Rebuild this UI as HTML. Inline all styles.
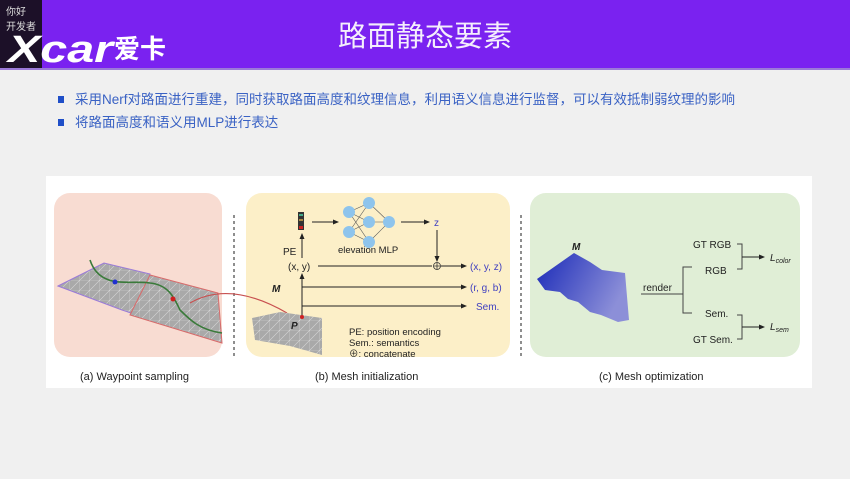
<!DOCTYPE html>
<html><head><meta charset="utf-8"><style>
body{margin:0;width:850px;height:479px;overflow:hidden;background:#f0f0f0;font-family:"Liberation Sans","Noto Sans CJK SC",sans-serif;}
</style></head><body>
<svg width="850" height="479" viewBox="0 0 850 479" xmlns="http://www.w3.org/2000/svg" style="position:absolute;left:0;top:0">
<defs>
<marker id="a" markerWidth="6" markerHeight="6" refX="5" refY="3" orient="auto"><path d="M0,0.5 L6,3 L0,5.5z" fill="#222"/></marker>
<linearGradient id="g" x1="0" y1="0" x2="1" y2="0.4"><stop offset="0" stop-color="#1a2ab8"/><stop offset="1" stop-color="#8c8fd8"/></linearGradient>
<pattern id="mesh" width="10" height="10" patternUnits="userSpaceOnUse"><rect width="10" height="10" fill="#a9a9a9"/><path d="M0,0H10V10M0,10L10,0" stroke="#d8d8d8" stroke-width="0.6" fill="none"/></pattern>
</defs>
<rect x="0" y="0" width="850" height="68" fill="#7a22f0"/>
<rect x="0" y="68" width="850" height="2" fill="#9b7ad8"/>
<rect x="0" y="0" width="42" height="68" fill="#1c1028"/>
<text x="6" y="15" font-size="10" fill="#ddd">你好</text>
<text x="6" y="30" font-size="10" fill="#ddd">开发者</text>
<text x="8" y="62" font-size="38" font-weight="bold" font-style="italic" fill="#fff" textLength="105" lengthAdjust="spacingAndGlyphs">Xcar</text>
<text x="114" y="58" font-size="26" font-weight="bold" fill="#fff">爱卡</text>
<text x="425" y="46" font-size="29" fill="#f4eefc" text-anchor="middle">路面静态要素</text>
<rect x="58" y="96" width="6" height="7" fill="#1f4fc8"/>
<text x="75" y="104" font-size="13.5" fill="#3a62c4">采用Nerf对路面进行重建，同时获取路面高度和纹理信息，利用语义信息进行监督，可以有效抵制弱纹理的影响</text>
<rect x="58" y="119" width="6" height="7" fill="#1f4fc8"/>
<text x="75" y="127" font-size="13.5" fill="#3a62c4">将路面高度和语义用MLP进行表达</text>
<rect x="46" y="176" width="766" height="212" fill="#fff"/>
<rect x="54" y="193" width="168" height="164" rx="16" fill="#f8dcd2"/>
<rect x="246" y="193" width="264" height="164" rx="16" fill="#fcefc8"/>
<rect x="530" y="193" width="270" height="164" rx="16" fill="#e0eed6"/>
<line x1="234" y1="215" x2="234" y2="357" stroke="#444" stroke-width="1.2" stroke-dasharray="3,3"/>
<line x1="521" y1="215" x2="521" y2="357" stroke="#444" stroke-width="1.2" stroke-dasharray="3,3"/>
<!-- panel a -->
<polygon points="58,286 104,263 150,274 140,316 122,310" fill="url(#mesh)" stroke="#9a7ad8"/>
<polygon points="150,275 218,293 222,343 130,315" fill="url(#mesh)" stroke="#d86a6a"/>
<path d="M90,260 C100,290 130,280 150,283 C170,285 175,300 180,310 C190,320 200,330 222,333" stroke="#3a7a3a" stroke-width="1.6" fill="none"/>
<circle cx="115" cy="282" r="2.5" fill="#2030d0"/>
<circle cx="173" cy="299" r="2.5" fill="#d02020"/>
<path d="M190,303 Q230,280 287,313" stroke="#c85050" stroke-width="1.2" fill="none"/>
<!-- panel b -->
<rect x="298" y="212" width="6" height="18" fill="#333"/>
<rect x="299" y="214" width="4" height="2" fill="#4a8"/><rect x="299" y="219" width="4" height="2" fill="#a84"/><rect x="299" y="226" width="4" height="3" fill="#c22"/>
<line x1="312" y1="222" x2="338" y2="222" stroke="#222" marker-end="url(#a)"/>
<g stroke="#555" stroke-width="0.6">
<line x1="349" y1="212" x2="369" y2="203"/><line x1="349" y1="212" x2="369" y2="222"/><line x1="349" y1="212" x2="369" y2="242"/>
<line x1="349" y1="232" x2="369" y2="203"/><line x1="349" y1="232" x2="369" y2="222"/><line x1="349" y1="232" x2="369" y2="242"/>
<line x1="369" y1="203" x2="389" y2="222"/><line x1="369" y1="222" x2="389" y2="222"/><line x1="369" y1="242" x2="389" y2="222"/></g>
<g fill="#8ec4ec"><circle cx="349" cy="212" r="6"/><circle cx="349" cy="232" r="6"/><circle cx="369" cy="203" r="6"/><circle cx="369" cy="222" r="6"/><circle cx="369" cy="242" r="6"/><circle cx="389" cy="222" r="6"/></g>
<line x1="401" y1="222" x2="429" y2="222" stroke="#222" marker-end="url(#a)"/>
<text x="434" y="226" font-size="10" fill="#4040c0">z</text>
<line x1="437" y1="230" x2="437" y2="261" stroke="#222" marker-end="url(#a)"/>
<text x="338" y="253" font-size="9.5" fill="#222">elevation MLP</text>
<text x="283" y="255" font-size="10" fill="#222">PE</text>
<line x1="302" y1="258" x2="302" y2="234" stroke="#222" marker-end="url(#a)"/>
<text x="288" y="270" font-size="10" fill="#222">(x, y)</text>
<line x1="318" y1="266" x2="432" y2="266" stroke="#222"/>
<circle cx="437" cy="266" r="3.5" fill="none" stroke="#333" stroke-width="0.8"/><path d="M433.5,266h7M437,262.5v7" stroke="#333" stroke-width="0.8"/>
<line x1="441" y1="266" x2="466" y2="266" stroke="#222" marker-end="url(#a)"/>
<text x="470" y="270" font-size="10" fill="#4040c0">(x, y, z)</text>
<line x1="302" y1="325" x2="302" y2="274" stroke="#222" marker-end="url(#a)"/>
<line x1="302" y1="287" x2="466" y2="287" stroke="#222" marker-end="url(#a)"/>
<text x="470" y="291" font-size="10" fill="#4040c0">(r, g, b)</text>
<line x1="302" y1="306" x2="466" y2="306" stroke="#222" marker-end="url(#a)"/>
<text x="476" y="310" font-size="10" fill="#4040c0">Sem.</text>
<text x="272" y="292" font-size="10" font-style="italic" font-weight="bold" fill="#222">M</text>
<polygon points="252,318 280,312 322,318 322,355 290,346 255,340" fill="url(#mesh)"/>
<circle cx="302" cy="317" r="2" fill="#d02020"/>
<text x="291" y="329" font-size="10" font-style="italic" font-weight="bold" fill="#222">P</text>
<text x="349" y="335" font-size="9.5" fill="#222">PE: position encoding</text>
<text x="349" y="346" font-size="9.5" fill="#222">Sem.: semantics</text>
<text x="349" y="357" font-size="9.5" fill="#222">⊕: concatenate</text>
<!-- panel c -->
<polygon points="537,279 574,253 590,262 602,270 625,273 629,320 618,322 601,315 590,312 578,302 568,299 560,292 545,290" fill="url(#g)"/>
<text x="572" y="250" font-size="10" font-style="italic" font-weight="bold" fill="#222">M</text>
<text x="643" y="291" font-size="10" fill="#222">render</text>
<line x1="641" y1="294" x2="683" y2="294" stroke="#444"/>
<path d="M692,267 H683 V313 H692" stroke="#444" fill="none"/>
<text x="693" y="248" font-size="10" fill="#222">GT RGB</text>
<text x="705" y="274" font-size="10" fill="#222">RGB</text>
<path d="M737,244 H742 V269 H737" stroke="#444" fill="none"/>
<line x1="742" y1="257" x2="764" y2="257" stroke="#222" marker-end="url(#a)"/>
<text x="770" y="261" font-size="10" font-style="italic" fill="#222">L<tspan font-size="7" dy="2">color</tspan></text>
<text x="705" y="317" font-size="10" fill="#222">Sem.</text>
<text x="693" y="343" font-size="10" fill="#222">GT Sem.</text>
<path d="M737,315 H742 V339 H737" stroke="#444" fill="none"/>
<line x1="742" y1="327" x2="764" y2="327" stroke="#222" marker-end="url(#a)"/>
<text x="770" y="330" font-size="10" font-style="italic" fill="#222">L<tspan font-size="7" dy="2">sem</tspan></text>
<text x="80" y="380" font-size="11" fill="#222">(a) Waypoint sampling</text>
<text x="315" y="380" font-size="11" fill="#222">(b) Mesh initialization</text>
<text x="599" y="380" font-size="11" fill="#222">(c) Mesh optimization</text>
</svg>
</body></html>
